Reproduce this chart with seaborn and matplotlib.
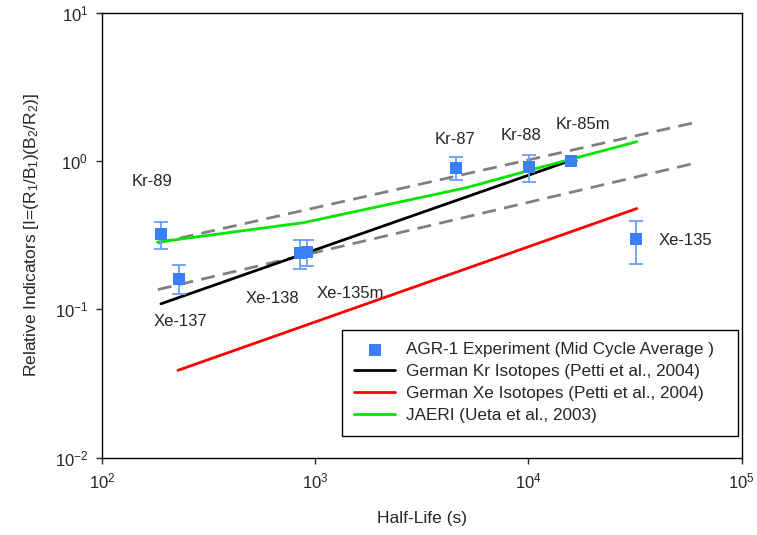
import numpy as np
import pandas as pd
import matplotlib
matplotlib.use("Agg")
import matplotlib.pyplot as plt
import seaborn as sns

# ---- data ----
isotopes = ["Kr-89", "Xe-137", "Xe-138", "Xe-135m", "Kr-87", "Kr-88", "Kr-85m", "Xe-135"]
half_life = [189, 230, 847, 917, 4570, 10100, 15800, 32000]
indicator = [0.321, 0.161, 0.240, 0.243, 0.898, 0.912, 1.00, 0.299]
err_hi = [0.388, 0.198, 0.292, 0.292, 1.06, 1.10, 1.00, 0.394]
err_lo = [0.254, 0.126, 0.186, 0.196, 0.743, 0.722, 1.00, 0.203]

label_x = [171, 234, 628, 1456, 4540, 9200, 17990, 54500]
label_y = [0.733, 0.0834, 0.118, 0.1276, 1.39, 1.48, 1.776, 0.291]

kr_x = [189, 15500]
kr_y = [0.109, 1.0]
xe_x = [227, 32200]
xe_y = [0.0388, 0.478]
jaeri_x = [182, 880, 2500, 5100, 10400, 32200]
jaeri_y = [0.284, 0.384, 0.53, 0.66, 0.875, 1.35]
band_up_x = [183, 62700]
band_up_y = [0.28, 1.84]
band_lo_x = [183, 62700]
band_lo_y = [0.136, 0.98]

sns.set_style("white")
plt.rcParams['font.family'] = ['Liberation Sans', 'DejaVu Sans']
plt.rcParams['mathtext.fontset'] = 'custom'
plt.rcParams['mathtext.rm'] = 'Liberation Sans'
plt.rcParams['mathtext.it'] = 'Liberation Sans:italic'
plt.rcParams['mathtext.default'] = 'regular'

fig = plt.figure(figsize=(7.57, 5.35), dpi=100)
ax = fig.add_axes([0.1347, 0.1445, 0.8451, 0.8318])

# dashed bands
sns.lineplot(x=band_up_x, y=band_up_y, ax=ax, color="#808080", lw=2, linestyle=(0, (5, 3)))
sns.lineplot(x=band_lo_x, y=band_lo_y, ax=ax, color="#808080", lw=2, linestyle=(0, (5, 3)))

sns.lineplot(x=kr_x, y=kr_y, ax=ax, color="black", lw=2, label="German Kr Isotopes (Petti et al., 2004)")
sns.lineplot(x=xe_x, y=xe_y, ax=ax, color="#ff0000", lw=2, label="German Xe Isotopes (Petti et al., 2004)")
sns.lineplot(x=jaeri_x, y=jaeri_y, ax=ax, color="#00e600", lw=2, label="JAERI (Ueta et al., 2003)", sort=True)

hl = np.array(half_life)
ind = np.array(indicator)
yerr = np.vstack([ind - np.array(err_lo), np.array(err_hi) - ind])
ax.errorbar(hl, ind, yerr=yerr, fmt="none", ecolor="#6a9ef2", elinewidth=1.3, capsize=5, capthick=1.3, zorder=4)
df = pd.DataFrame({"x": half_life, "y": indicator})
sns.scatterplot(data=df, x="x", y="y", ax=ax, marker="s", s=75, color="#3a7ff5", edgecolor="none",
                label="AGR-1 Experiment (Mid Cycle Average )", zorder=5)

for name, lx, ly in zip(isotopes, label_x, label_y):
    ax.text(lx, ly, name, ha="center", va="center", fontsize=12)

ax.set_xscale("log")
ax.set_yscale("log")
ax.set_xlim(1e2, 1e5)
ax.set_ylim(1e-2, 1e1)
ax.minorticks_off()
ax.tick_params(axis="both", which="major", direction="out", length=4, width=1, labelsize=12,
               bottom=True, left=True, top=False, right=False, pad=6)
ax.set_xlabel("Half-Life (s)", fontsize=12.5, labelpad=14)
ax.set_ylabel("Relative Indicators [I=(R$_1$/B$_1$)(B$_2$/R$_2$)]", fontsize=12.5, labelpad=10)
for s in ax.spines.values():
    s.set_visible(True)
    s.set_color("black")
    s.set_linewidth(1)

handles, labels = ax.get_legend_handles_labels()
order = ["AGR-1 Experiment (Mid Cycle Average )", "German Kr Isotopes (Petti et al., 2004)",
         "German Xe Isotopes (Petti et al., 2004)", "JAERI (Ueta et al., 2003)"]
hmap = dict(zip(labels, handles))
leg = ax.legend([hmap[l] for l in order], order, loc="lower left",
                bbox_to_anchor=(0.3747, 0.0494, 0.619, 0.2486), mode="expand",
                fontsize=12.3, frameon=True, fancybox=False, framealpha=1,
                edgecolor="black", handlelength=2.4, borderaxespad=0, labelspacing=0.4,
                borderpad=0.75, handletextpad=0.6)
leg.get_frame().set_linewidth(1)

fig.savefig("out.png", dpi=100)
